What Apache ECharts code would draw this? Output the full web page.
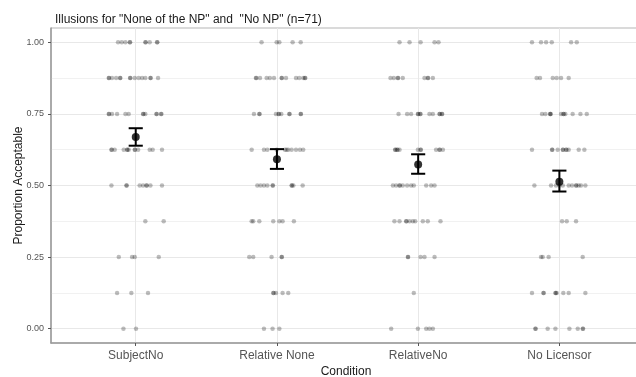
<!DOCTYPE html>
<html>
<head>
<meta charset="utf-8">
<script src="https://cdn.jsdelivr.net/npm/echarts@6/dist/echarts.min.js"></script>
<style>html,body{margin:0;padding:0;background:#fff}#chart{width:636px;height:377px}</style>
</head>
<body>
<div id="chart"></div>
<script>
const categories = ["SubjectNo", "Relative None", "RelativeNo", "No Licensor"];
const yTicks = [0, 0.25, 0.5, 0.75, 1];
const yMinorTicks = [0.125, 0.375, 0.625, 0.875];

// jittered participant proportions: [horizontal jitter offset, proportion]
const jitterSubjectNo = [
  [-0.125,1],[-0.099,1],[-0.073,1],[-0.042,1],[0.068,1],[0.099,1],[0.151,1],[0.153,1],[-0.040,1],[0.071,1],
  [-0.191,0.875],[-0.168,0.875],[-0.139,0.875],[-0.111,0.875],[-0.040,0.875],[-0.007,0.875],[0.021,0.875],[0.045,0.875],[0.068,0.875],[0.104,0.875],[0.158,0.875],[-0.038,0.875],[0.106,0.875],[-0.109,0.875],[-0.189,0.875],
  [-0.191,0.75],[-0.168,0.75],[-0.132,0.75],[-0.073,0.75],[-0.050,0.75],[0.052,0.75],[0.068,0.75],[0.146,0.75],[0.179,0.75],[0.054,0.75],[0.149,0.75],[-0.189,0.75],[0.182,0.75],
  [-0.172,0.625],[-0.149,0.625],[-0.085,0.625],[-0.061,0.625],[-0.050,0.625],[-0.007,0.625],[0.017,0.625],[0.099,0.625],[0.120,0.625],[0.186,0.625],[-0.059,0.625],[-0.005,0.625],[-0.170,0.625],
  [-0.172,0.5],[-0.066,0.5],[0.028,0.5],[0.052,0.5],[0.076,0.5],[0.104,0.5],[0.186,0.5],[-0.064,0.5],[0.078,0.5],
  [0.068,0.375],[0.198,0.375],
  [-0.120,0.25],[-0.026,0.25],[-0.007,0.25],[0.163,0.25],
  [-0.132,0.125],[-0.031,0.125],[0.087,0.125],
  [-0.087,0],[0.002,0]
];
const jitterRelativeNone = [
  [-0.109,1],[-0.002,1],[0.017,1],[0.111,1],[0.168,1],
  [-0.149,0.875],[-0.120,0.875],[-0.073,0.875],[-0.050,0.875],[-0.021,0.875],[0.033,0.875],[0.064,0.875],[0.135,0.875],[0.158,0.875],[0.186,0.875],[0.198,0.875],[0.201,0.875],[0.035,0.875],[-0.146,0.875],
  [-0.163,0.75],[-0.125,0.75],[-0.007,0.75],[0.012,0.75],[0.031,0.75],[0.087,0.75],[0.168,0.75],[-0.123,0.75],[0.014,0.75],[0.170,0.75],[0.090,0.75],
  [-0.179,0.625],[-0.092,0.625],[-0.068,0.625],[0.057,0.625],[0.080,0.625],[0.104,0.625],[0.135,0.625],[0.163,0.625],[0.186,0.625],[0.068,0.625],[-0.002,0.625],
  [-0.139,0.5],[-0.116,0.5],[-0.092,0.5],[-0.068,0.5],[-0.031,0.5],[0.104,0.5],[0.106,0.5],[0.116,0.5],[0.182,0.5],[-0.028,0.5],
  [-0.179,0.375],[-0.168,0.375],[-0.125,0.375],[-0.026,0.375],[0.017,0.375],[0.040,0.375],[0.120,0.375],
  [-0.196,0.25],[-0.168,0.25],[-0.038,0.25],[0.033,0.25],[0.035,0.25],
  [-0.026,0.125],[-0.007,0.125],[0.040,0.125],[0.080,0.125],[-0.024,0.125],
  [-0.092,0],[-0.031,0],[0.017,0]
];
const jitterRelativeNo = [
  [-0.132,1],[-0.061,1],[0.017,1],[0.116,1],[0.144,1],
  [-0.196,0.875],[-0.172,0.875],[-0.144,0.875],[-0.109,0.875],[0.045,0.875],[0.068,0.875],[0.104,0.875],[-0.142,0.875],[0.071,0.875],
  [-0.139,0.75],[-0.078,0.75],[-0.050,0.75],[-0.002,0.75],[0.017,0.75],[0.080,0.75],[0.104,0.75],[0.151,0.75],[0.168,0.75],[0.000,0.75],[0.153,0.75],[0.170,0.75],[0.014,0.75],
  [-0.163,0.625],[-0.149,0.625],[-0.132,0.625],[-0.002,0.625],[0.017,0.625],[0.127,0.625],[0.151,0.625],[0.175,0.625],[-0.161,0.625],[-0.146,0.625],[0.019,0.625],[0.153,0.625],
  [-0.179,0.5],[-0.156,0.5],[-0.132,0.5],[-0.109,0.5],[-0.078,0.5],[-0.050,0.5],[-0.031,0.5],[0.057,0.5],[0.092,0.5],[0.116,0.5],[-0.130,0.5],
  [-0.168,0.375],[-0.132,0.375],[-0.085,0.375],[-0.061,0.375],[-0.038,0.375],[-0.021,0.375],[0.033,0.375],[0.068,0.375],[0.158,0.375],[-0.083,0.375],
  [-0.073,0.25],[0.017,0.25],[0.045,0.25],[0.116,0.25],[-0.071,0.25],
  [-0.031,0.125],
  [-0.191,0],[-0.002,0],[0.057,0],[0.080,0],[0.104,0]
];
const jitterNoLicensor = [
  [-0.194,1],[-0.130,1],[-0.094,1],[-0.054,1],[0.083,1],[0.123,1],
  [-0.161,0.875],[-0.137,0.875],[-0.047,0.875],[-0.019,0.875],[0.012,0.875],[0.066,0.875],
  [-0.123,0.75],[-0.099,0.75],[-0.066,0.75],[-0.064,0.75],[0.012,0.75],[0.028,0.75],[0.042,0.75],[0.094,0.75],[0.149,0.75],[0.194,0.75],[-0.061,0.75],[0.031,0.75],
  [-0.194,0.625],[-0.052,0.625],[-0.012,0.625],[0.024,0.625],[0.047,0.625],[0.066,0.625],[0.137,0.625],[0.177,0.625],[-0.050,0.625],[0.050,0.625],[0.026,0.625],
  [-0.177,0.5],[-0.059,0.5],[0.024,0.5],[0.066,0.5],[0.090,0.5],[0.118,0.5],[0.137,0.5],[0.153,0.5],[0.184,0.5],[0.120,0.5],[0.000,0.5],[-0.024,0.5],
  [0.019,0.375],[0.052,0.375],[0.118,0.375],
  [-0.130,0.25],[-0.118,0.25],[-0.076,0.25],[0.165,0.25],
  [-0.194,0.125],[-0.113,0.125],[-0.028,0.125],[-0.019,0.125],[0.028,0.125],[0.066,0.125],[0.184,0.125],[-0.111,0.125],[-0.026,0.125],
  [-0.170,0],[-0.083,0],[-0.028,0],[0.071,0],[0.130,0],[0.165,0],[0.168,0],[-0.168,0]
];
const conditionPoints = [jitterSubjectNo, jitterRelativeNone, jitterRelativeNo, jitterNoLicensor];

// means and error bar limits
const means = [0.669, 0.592, 0.573, 0.513];
const errLow = [0.639, 0.558, 0.541, 0.479];
const errHigh = [0.700, 0.627, 0.609, 0.552];

const jitterData = [];
conditionPoints.forEach((pts, i) => pts.forEach(p => jitterData.push([i + 1 + p[0], p[1]])));
const meanData = means.map((m, i) => [i + 1, m]);
const errData = means.map((m, i) => [i + 1, errLow[i], errHigh[i]]);

const chart = echarts.init(document.getElementById('chart'));
const xTickVals = categories.map((c, i) => i + 1);
chart.setOption({
  animation: false,
  backgroundColor: '#fff',
  textStyle: { fontFamily: 'Liberation Sans, Arial, sans-serif' },
  title: {
    text: 'Illusions for "None of the NP" and  "No NP" (n=71)',
    left: 50, top: 9,
    textStyle: { fontSize: 12, fontWeight: 'normal', color: '#1a1a1a', fontFamily: 'Liberation Sans, Arial, sans-serif' }
  },
  grid: { left: 51, right: -5, top: 28, bottom: 34, outerBoundsMode: 'none', containLabel: false, show: true, borderColor: '#b5b5b5', borderWidth: 1 },
  xAxis: {
    type: 'value', min: 0.4, max: 4.578,
    name: 'Condition', nameLocation: 'middle', nameGap: 23, nameMoveOverlap: false,
    nameTextStyle: { fontSize: 12, color: '#1a1a1a' },
    axisLine: { show: true, onZero: false, lineStyle: { color: '#9a9a9a', width: 1.5 } },
    axisTick: { show: true, length: 3, customValues: xTickVals, lineStyle: { color: '#555' } },
    axisLabel: { customValues: xTickVals, formatter: v => categories[Math.round(v) - 1] || '', fontSize: 12, color: '#555', margin: 7 },
    splitLine: { show: true, lineStyle: { color: '#e8e8e8', width: 1 } }
  },
  yAxis: [{
    type: 'value', min: -0.05, max: 1.05,
    name: 'Proportion Acceptable', nameLocation: 'middle', nameGap: 26, nameMoveOverlap: false,
    nameTextStyle: { fontSize: 12, color: '#1a1a1a' },
    axisLine: { show: true, onZero: false, lineStyle: { color: '#9a9a9a', width: 1.5 } },
    axisTick: { show: true, length: 3, customValues: yTicks, lineStyle: { color: '#555' } },
    axisLabel: { customValues: yTicks, formatter: v => v.toFixed(2), fontSize: 9, color: '#555', margin: 7 },
    splitLine: { show: true, lineStyle: { color: '#e8e8e8', width: 1 } }
  }, {
    type: 'value', min: -0.05, max: 1.05, position: 'right',
    axisLine: { show: false }, axisLabel: { show: false, customValues: yMinorTicks },
    axisTick: { show: false, customValues: yMinorTicks },
    splitLine: { show: true, lineStyle: { color: '#f1f1f1', width: 1 } }
  }],
  series: [{
    type: 'scatter', data: jitterData, symbolSize: 4.5,
    itemStyle: { color: 'rgba(0,0,0,0.33)' }, silent: true, z: 2
  }, {
    type: 'custom', data: errData, z: 3,
    encode: { x: 0, y: [1, 2] },
    renderItem: (params, api) => {
      const x = api.value(0);
      const lo = api.coord([x, api.value(1)]);
      const hi = api.coord([x, api.value(2)]);
      const hw = api.size([0.05, 0])[0];
      const st = { stroke: '#000', lineWidth: 2 };
      return { type: 'group', children: [
        { type: 'line', shape: { x1: lo[0], y1: lo[1], x2: hi[0], y2: hi[1] }, style: st },
        { type: 'line', shape: { x1: lo[0] - hw, y1: lo[1], x2: lo[0] + hw, y2: lo[1] }, style: st },
        { type: 'line', shape: { x1: hi[0] - hw, y1: hi[1], x2: hi[0] + hw, y2: hi[1] }, style: st }
      ] };
    }
  }, {
    type: 'scatter', data: meanData, symbolSize: 8,
    itemStyle: { color: '#000' }, z: 4
  }]
});
</script>
</body>
</html>
